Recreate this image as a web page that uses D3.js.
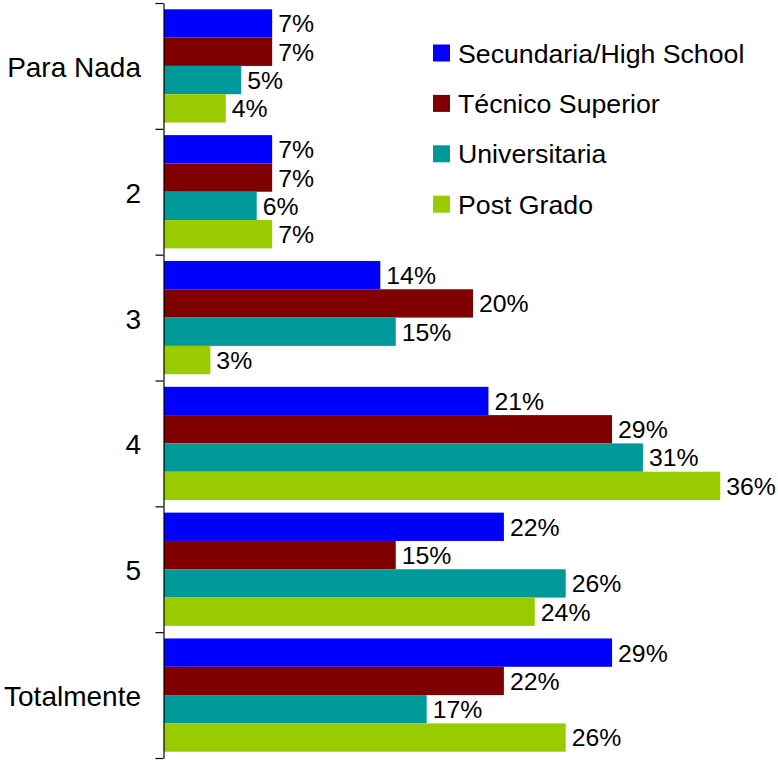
<!DOCTYPE html>
<html><head><meta charset="utf-8">
<script src="https://cdn.jsdelivr.net/npm/d3@7"></script>
<style>body{margin:0;background:#fff}svg{display:block}</style>
</head><body>
<script>
const categories = ["Para Nada","2","3","4","5","Totalmente"];
const seriesNames = ["Secundaria/High School","Técnico Superior","Universitaria","Post Grado"];
const secundaria = [7,7,14,21,22,29];
const tecnico = [7,7,20,29,15,22];
const universitaria = [5,6,15,31,26,17];
const postgrado = [4,7,3,36,24,26];
const colors = ["#0000FF","#800000","#009999","#99CC00"];

const values = [secundaria, tecnico, universitaria, postgrado];
const W = 778, H = 761;
const svg = d3.select("body").append("svg").attr("width", W).attr("height", H);

const x = d3.scaleLinear().domain([0, 40]).range([164, 782]);
const y0 = d3.scaleBand().domain(categories).range([3, 758]).paddingInner(0.1).paddingOuter(0.05);
const y1 = d3.scaleBand().domain(d3.range(4)).range([0, y0.bandwidth()]);

const font = "Arial, 'Liberation Sans', sans-serif";

categories.forEach((c, ci) => {
  const g = svg.append("g").attr("transform", `translate(0,${y0(c)})`);
  values.forEach((arr, si) => {
    g.append("rect")
      .attr("x", x(0)).attr("y", y1(si))
      .attr("width", x(arr[ci]) - x(0)).attr("height", y1.bandwidth())
      .attr("fill", colors[si]);
    g.append("text")
      .attr("x", x(arr[ci]) + 6).attr("y", y1(si) + y1.bandwidth() / 2)
      .attr("dy", "0.36em")
      .attr("font-family", font).attr("font-size", 24.8).attr("fill", "#000")
      .text(arr[ci] + "%");
  });
});

// axis with boundary ticks
const yb = d3.scaleLinear().domain([0, categories.length]).range([3, 758]);
const axis = svg.append("g").attr("transform", "translate(163.5,0)")
  .call(d3.axisLeft(yb).tickValues(d3.range(categories.length + 1)).tickSize(8).tickSizeOuter(0).tickFormat(""));
axis.selectAll("path,line").attr("stroke", "#000").attr("stroke-width", 1.2);

categories.forEach(c => {
  svg.append("text")
    .attr("x", 141).attr("y", y0(c) + y0.bandwidth() / 2 + 1)
    .attr("dy", "0.36em").attr("text-anchor", "end")
    .attr("font-family", font).attr("font-size", 28).attr("fill", "#000")
    .text(c);
});

// legend
const leg = svg.append("g");
seriesNames.forEach((n, i) => {
  const cy = 53 + i * 50.4;
  leg.append("rect").attr("x", 433).attr("y", cy - 8.5).attr("width", 17).attr("height", 17).attr("fill", colors[i]);
  leg.append("text").attr("x", 458).attr("y", cy).attr("dy", "0.36em")
    .attr("font-family", font).attr("font-size", 26.7).attr("fill", "#000").text(n);
});
</script>
</body></html>
